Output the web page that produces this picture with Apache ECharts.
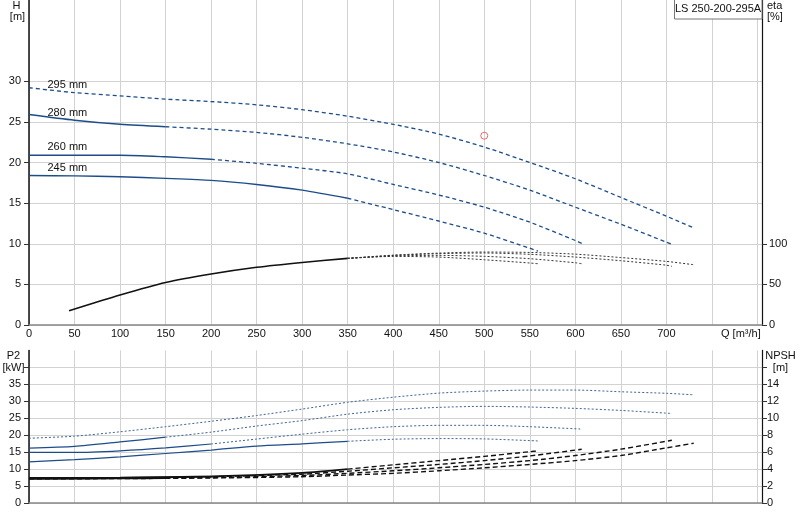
<!DOCTYPE html>
<html><head><meta charset="utf-8">
<script src="https://cdn.jsdelivr.net/npm/echarts@6/dist/echarts.min.js"></script>
<style>html,body{margin:0;padding:0;background:#fff}#c{width:800px;height:520px}</style>
</head><body><div id="c"></div>
<script>
// ---------- data ----------
const diameters = ['295 mm', '280 mm', '260 mm', '245 mm'];
const solidLimit = [null, 150, 200, 350];           // Q up to which each curve is drawn solid

// Head H [m]
const hQ295 = [0,50,100,150,200,250,300,350,400,450,500,550,600,650,700,729];
const hH295 = [29.2,28.6,28.2,27.8,27.5,27.1,26.5,25.7,24.7,23.5,21.9,20.0,18.0,15.7,13.4,12.0];
const hQ280 = [0,50,100,150,200,250,300,350,400,450,500,550,600,650,700,706];
const hH280 = [25.9,25.2,24.7,24.4,24.1,23.7,23.1,22.3,21.3,20.0,18.4,16.6,14.5,12.4,10.2,9.95];
const hQ260 = [0,50,100,150,200,250,300,350,400,450,500,550,600,607];
const hH260 = [20.9,20.9,20.9,20.7,20.4,19.9,19.3,18.6,17.3,16.0,14.5,12.65,10.4,10.05];
const hQ245 = [0,50,100,150,200,250,300,350,400,450,500,550,559];
const hH245 = [18.4,18.35,18.25,18.05,17.8,17.3,16.6,15.6,14.2,12.8,11.3,9.45,9.1];

// Efficiency eta [%]
const etaQShared = [44,100,150,200,250,300,350];
const etaShared  = [17.5,36.9,52.3,62.7,71.0,77.0,82.0];
const etaQ295 = [350,400,450,500,550,600,650,700,730];
const eta295  = [82.0,86.0,88.5,89.8,89.3,87.2,83.0,78.3,74.2];
const etaQ280 = [350,400,450,500,550,600,650,700,706];
const eta280  = [82.0,85.6,87.8,88.6,87.0,83.6,79.1,73.6,72.2];
const etaQ260 = [350,400,450,500,550,600,607];
const eta260  = [82.0,85.0,85.7,84.5,81.6,76.6,75.4];
const etaQ245 = [350,400,450,500,550,559];
const eta245  = [82.0,84.4,83.6,80.3,76.3,75.4];

// Power P2 [kW]
const pQ295 = [0,50,100,150,200,250,300,350,400,450,500,550,600,650,700,730];
const p295  = [19.1,19.7,21.0,22.5,24.1,25.8,27.7,29.7,31.2,32.4,33.0,33.3,33.3,32.8,32.35,31.9];
const pQ280 = [0,50,100,150,200,250,300,350,400,450,500,550,600,650,706];
const p280  = [16.2,16.7,18.0,19.4,20.9,22.7,24.3,26.2,27.5,28.2,28.5,28.3,27.9,27.3,26.4];
const pQ260 = [0,50,100,150,200,250,300,350,400,450,500,550,607];
const p260  = [14.9,14.9,15.4,16.25,17.4,18.85,20.3,21.6,22.5,22.9,22.9,22.5,21.8];
const pQ245 = [0,50,100,150,200,250,300,350,400,450,500,559];
const p245  = [12.1,12.8,13.6,14.6,15.6,16.8,17.45,18.2,18.8,19.0,18.9,18.3];

// NPSH [m]
const nQ295 = [0,100,200,300,350,400,450,500,550,600,650,700,730];
const n295  = [2.85,2.88,2.95,3.1,3.3,3.5,3.8,4.15,4.55,5.0,5.6,6.5,7.05];
const nQ280 = [0,100,150,200,300,350,400,450,500,550,600,650,706];
const n280  = [2.85,2.9,2.95,3.0,3.25,3.5,3.8,4.15,4.55,5.0,5.6,6.35,7.4];
const nQ260 = [0,100,200,300,350,400,450,500,550,607];
const n260  = [2.9,2.95,3.1,3.4,3.75,4.15,4.55,5.0,5.55,6.34];
const nQ245 = [0,100,200,300,350,400,450,500,550,559];
const n245  = [2.95,3.0,3.15,3.55,4.0,4.5,5.0,5.5,6.05,6.15];

// Duty point
const dutyQ = 500, dutyH = 23.3;

// Tick labels
const qTickLabels = [0,50,100,150,200,250,300,350,400,450,500,550,600,650,700];
const hTickLabels = [0,5,10,15,20,25,30];
const etaTickLabels = [0,50,100];
const pTickLabels = [0,5,10,15,20,25,30,35];
const npshTickLabels = [0,2,4,6,8,10,12,14];

// ---------- build ----------
const BLUE = '#1c4d8a';
const FONT = 'Arial, "Liberation Sans", sans-serif';
const TXT = '#111';

function pts(qs, vs, lo, hi) {
  return qs.map((q, i) => [q, vs[i]]).filter(p => p[0] >= lo && p[0] <= hi);
}
function line(data, xi, yi, color, width, type, z) {
  return { type: 'line', xAxisIndex: xi, yAxisIndex: yi, data: data, showSymbol: false, symbol: 'none',
    smooth: 0.25, silent: true, animation: false, z: z || 2,
    lineStyle: { color: color, width: width, type: type } };
}
function splitCurve(qs, vs, lim, xi, yi, solidStyle, dashStyle) {
  const out = [];
  if (lim !== null) out.push(line(pts(qs, vs, -Infinity, lim), xi, yi, solidStyle[0], solidStyle[1], 'solid', solidStyle[2]));
  out.push(line(pts(qs, vs, lim === null ? -Infinity : lim, Infinity), xi, yi, dashStyle[0], dashStyle[1], dashStyle[2], dashStyle[3]));
  return out;
}

const hQs = [hQ295, hQ280, hQ260, hQ245], hHs = [hH295, hH280, hH260, hH245];
const pQs = [pQ295, pQ280, pQ260, pQ245], pPs = [p295, p280, p260, p245];
const nQs = [nQ295, nQ280, nQ260, nQ245], nNs = [n295, n280, n260, n245];
const eQs = [etaQ295, etaQ280, etaQ260, etaQ245], eEs = [eta295, eta280, eta260, eta245];

const series = [];
// head curves
for (let i = 0; i < 4; i++) {
  series.push(...splitCurve(hQs[i], hHs[i], solidLimit[i], 0, 0, [BLUE, 1.4, 3], [BLUE, 1.3, [4, 3], 3]));
}
// efficiency curves (eta axis scaled so that 100 % = 10 m)
series.push(line(pts(etaQShared, etaShared, -Infinity, Infinity), 0, 1, '#111', 1.6, 'solid', 4));
for (let i = 0; i < 4; i++) {
  series.push(line(pts(eQs[i], eEs[i], -Infinity, Infinity), 0, 1, '#333', 1, [2, 2], 4));
}
// diameter labels
const labelDy = [-3, -2, -8.5, -7.5];
series.push({
  type: 'scatter', xAxisIndex: 0, yAxisIndex: 0, symbolSize: 1, silent: true, animation: false, z: 5,
  itemStyle: { color: 'rgba(0,0,0,0)' },
  data: diameters.map((d, i) => ({ value: [hQs[i][0], hHs[i][0]], name: d,
    label: { show: true, position: 'right', offset: [13, labelDy[i]], formatter: d,
      color: TXT, opacity: 1, fontSize: 11, fontFamily: FONT } }))
});
// duty point
series.push({
  type: 'scatter', xAxisIndex: 0, yAxisIndex: 0, symbol: 'circle', symbolSize: 7, silent: true, animation: false, z: 6,
  data: [[dutyQ, dutyH]],
  itemStyle: { color: 'rgba(255,255,255,0)', borderColor: '#e8474c', borderWidth: 1 }
});
// power curves
for (let i = 0; i < 4; i++) {
  series.push(...splitCurve(pQs[i], pPs[i], solidLimit[i], 1, 2, [BLUE, 1.2, 3], ['#3f6598', 1, [2, 2], 3]));
}
// NPSH curves
for (let i = 0; i < 4; i++) {
  series.push(...splitCurve(nQs[i], nNs[i], solidLimit[i], 1, 3, ['#111', 1.8, 4], ['#111', 1.4, [5, 3], 4]));
}

const splitLine = { show: true, lineStyle: { color: '#d2d2d2', width: 1 } };
const axLabel = { fontSize: 11, color: TXT, fontFamily: FONT };

const option = {
  animation: false,
  backgroundColor: '#fff',
  grid: [
    { left: 29, top: 0, width: 733, height: 325 },
    { left: 29, top: 350.4, width: 733, height: 152.6 }
  ],
  xAxis: [
    { type: 'value', gridIndex: 0, min: 0, max: 805, interval: 50,
      axisLine: { show: true, onZero: false, lineStyle: { color: '#888', width: 1.5 } },
      axisTick: { show: false },
      axisLabel: Object.assign({ margin: 3, customValues: qTickLabels,
        formatter: v => (qTickLabels.indexOf(v) >= 0 ? String(v) : '') }, axLabel),
      splitLine: splitLine },
    { type: 'value', gridIndex: 1, min: 0, max: 805, interval: 50,
      axisLine: { show: true, onZero: false, lineStyle: { color: '#888', width: 1.5 } },
      axisTick: { show: false }, axisLabel: { show: false },
      splitLine: splitLine }
  ],
  yAxis: [
    { type: 'value', gridIndex: 0, position: 'left', min: 0, max: 40, interval: 5,
      axisLine: { show: true, lineStyle: { color: '#111', width: 1.5 } },
      axisTick: { show: true, length: 5, customValues: hTickLabels, lineStyle: { color: '#333' } },
      axisLabel: Object.assign({ margin: 8, customValues: hTickLabels,
        formatter: v => (hTickLabels.indexOf(v) >= 0 ? String(v) : '') }, axLabel),
      splitLine: splitLine },
    { type: 'value', gridIndex: 0, position: 'right', min: 0, max: 400, interval: 50,
      axisLine: { show: true, lineStyle: { color: '#111', width: 1.2 } },
      axisTick: { show: true, length: 5, customValues: etaTickLabels, lineStyle: { color: '#333' } },
      axisLabel: Object.assign({ margin: 7, customValues: etaTickLabels,
        formatter: v => (etaTickLabels.indexOf(v) >= 0 ? String(v) : '') }, axLabel),
      splitLine: { show: false } },
    { type: 'value', gridIndex: 1, position: 'left', min: 0, max: 45, interval: 5,
      axisLine: { show: true, lineStyle: { color: '#111', width: 1.5 } },
      axisTick: { show: true, length: 5, customValues: [0,5,10,15,20,25,30,35,40], lineStyle: { color: '#333' } },
      axisLabel: Object.assign({ margin: 8, customValues: pTickLabels,
        formatter: v => (pTickLabels.indexOf(v) >= 0 ? String(v) : '') }, axLabel),
      splitLine: splitLine },
    { type: 'value', gridIndex: 1, position: 'right', min: 0, max: 18, interval: 2,
      axisLine: { show: true, lineStyle: { color: '#111', width: 1.2 } },
      axisTick: { show: true, length: 5, customValues: [0,2,4,6,8,10,12,14,16], lineStyle: { color: '#333' } },
      axisLabel: Object.assign({ margin: 5, customValues: npshTickLabels,
        formatter: v => (npshTickLabels.indexOf(v) >= 0 ? String(v) : '') }, axLabel),
      splitLine: { show: false } }
  ],
  graphic: [
    { type: 'text', x: 16.5, y: 5.5, z: 50, style: { text: 'H', fill: TXT, font: '11px ' + FONT, textAlign: 'center', verticalAlign: 'middle', textVerticalAlign: 'middle' } },
    { type: 'text', x: 17.5, y: 17, z: 50, style: { text: '[m]', fill: TXT, font: '11px ' + FONT, textAlign: 'center', verticalAlign: 'middle', textVerticalAlign: 'middle' } },
    { type: 'text', x: 767, y: 5.5, z: 50, style: { text: 'eta', fill: TXT, font: '11px ' + FONT, textAlign: 'left', verticalAlign: 'middle', textVerticalAlign: 'middle' } },
    { type: 'text', x: 767, y: 17, z: 50, style: { text: '[%]', fill: TXT, font: '11px ' + FONT, textAlign: 'left', verticalAlign: 'middle', textVerticalAlign: 'middle' } },
    { type: 'text', x: 13.5, y: 355.5, z: 50, style: { text: 'P2', fill: TXT, font: '11px ' + FONT, textAlign: 'center', verticalAlign: 'middle', textVerticalAlign: 'middle' } },
    { type: 'text', x: 13.5, y: 367.5, z: 50, style: { text: '[kW]', fill: TXT, font: '11px ' + FONT, textAlign: 'center', verticalAlign: 'middle', textVerticalAlign: 'middle' } },
    { type: 'text', x: 780.5, y: 355.5, z: 50, style: { text: 'NPSH', fill: TXT, font: '11px ' + FONT, textAlign: 'center', verticalAlign: 'middle', textVerticalAlign: 'middle' } },
    { type: 'text', x: 780.5, y: 367.5, z: 50, style: { text: '[m]', fill: TXT, font: '11px ' + FONT, textAlign: 'center', verticalAlign: 'middle', textVerticalAlign: 'middle' } },
    { type: 'text', x: 721, y: 333.5, z: 50, style: { text: 'Q [m³/h]', fill: TXT, font: '11px ' + FONT, textAlign: 'left', verticalAlign: 'middle', textVerticalAlign: 'middle' } },
    { type: 'rect', z: 50, shape: { x: 674.5, y: -1.5, width: 87.5, height: 20.5 }, style: { fill: '#fff', stroke: '#777', lineWidth: 1 } },
    { type: 'text', x: 718, y: 8.5, z: 51, style: { text: 'LS 250-200-295A', fill: TXT, font: '11px ' + FONT, textAlign: 'center', verticalAlign: 'middle', textVerticalAlign: 'middle' } }
  ],
  series: series
};

const chart = echarts.init(document.getElementById('c'), null, { renderer: 'canvas' });
chart.setOption(option);
</script>
</body></html>
